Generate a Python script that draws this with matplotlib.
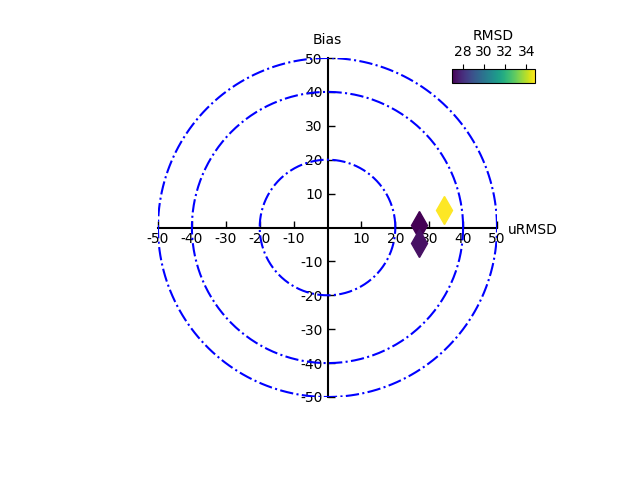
import numpy as np
import matplotlib
matplotlib.use("Agg")
import matplotlib.pyplot as plt

bias = [0.8, -4.5, 5.3]
urmsd = [27.0, 27.0, 34.4]
circles = [20, 40, 50]
ticks = [-50, -40, -30, -20, -10, 10, 20, 30, 40, 50]

plt.rcParams['axes.unicode_minus'] = False
rmsd = np.sqrt(np.array(bias) ** 2 + np.array(urmsd) ** 2)

fig = plt.figure(figsize=(6.4, 4.8), dpi=100)
ax = fig.add_axes([158 / 640, 83 / 480, 339 / 640, 339 / 480])
ax.set_xlim(-50, 50)
ax.set_ylim(-50, 50)
ax.set_aspect('equal')

for s in ['top', 'right']:
    ax.spines[s].set_visible(False)
for s in ['left', 'bottom']:
    ax.spines[s].set_position('zero')
    ax.spines[s].set_linewidth(1.5)
    ax.spines[s].set_zorder(1)

th = np.linspace(0, 2 * np.pi, 400)
for r in circles:
    ax.plot(r * np.cos(th), r * np.sin(th), color='blue', linestyle='-.', linewidth=1.5, zorder=2)

ax.set_xticks(ticks)
ax.set_yticks(ticks)
ax.set_xticklabels([str(t) for t in ticks])
ax.set_yticklabels([str(t) for t in ticks])
ax.tick_params(direction='in', length=5, width=1, labelsize=10)

cmap = plt.get_cmap('viridis')
norm = plt.Normalize(rmsd.min(), rmsd.max())
for x, y, c in zip(urmsd, bias, rmsd):
    ax.plot(x, y, marker='d', markersize=14, color=cmap(norm(c)), linestyle='none', zorder=3)

ax.annotate('Bias', xy=(0, 50), xytext=(0, 8), textcoords='offset points',
            ha='center', va='bottom', fontsize=10)
ax.annotate('uRMSD', xy=(50, 0), xytext=(8, -2), textcoords='offset points',
            ha='left', va='center', fontsize=10)

cax = fig.add_axes([452 / 640, (480 - 83) / 480, 83 / 640, 14 / 480])
sm = matplotlib.cm.ScalarMappable(norm=norm, cmap=cmap)
cb = fig.colorbar(sm, cax=cax, orientation='horizontal', ticks=[28, 30, 32, 34])
cax.xaxis.set_ticks_position('top')
cax.xaxis.set_label_position('top')
cb.set_label('RMSD', fontsize=10)
cax.tick_params(labelsize=10)

fig.savefig('out.png', dpi=100)
